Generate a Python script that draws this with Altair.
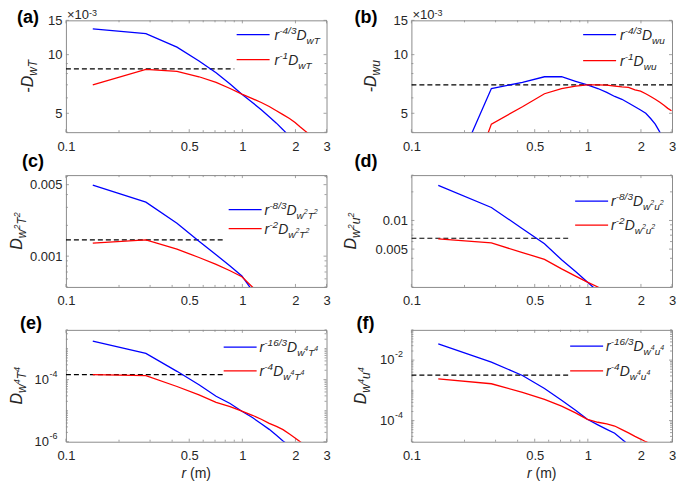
import altair as alt
import pandas as pd

# ---------------- values ----------------
# (a) -D_wT
r_a = [0.142, 0.284, 0.426, 0.568, 0.71, 0.852, 0.994, 1.14, 1.28, 1.42,
       1.56, 1.70, 1.85, 1.99, 2.13, 2.27, 2.41, 2.56]
blue_a = [0.01355, 0.01283, 0.01092, 0.00928, 0.00807, 0.00707, 0.00627, 0.00568, 0.00522, 0.00480,
          0.00445, 0.00412, 0.00380, 0.00355, 0.00330, 0.00310, 0.00290, 0.00270]
red_a = [0.00700, 0.00840, 0.00820, 0.00770, 0.00720, 0.00670, 0.00627, 0.00595, 0.00568, 0.00542,
         0.00515, 0.00492, 0.00470, 0.00449, 0.00425, 0.00405, 0.00388, 0.00370]
dash_a = 0.00846

# (b) -D_wu
r_b = [0.142, 0.284, 0.426, 0.568, 0.71, 0.852, 0.994, 1.14, 1.28, 1.42,
       1.56, 1.70, 1.85, 1.99, 2.13, 2.27, 2.41, 2.56, 2.70, 2.84, 2.98]
blue_b = [0.0016, 0.0067, 0.0072, 0.0077, 0.0077, 0.0073, 0.0070, 0.0067, 0.0064, 0.0061,
          0.0059, 0.00565, 0.0054, 0.0052, 0.0050, 0.0047, 0.0044, 0.0040, 0.0037, 0.0035, 0.0033]
red_b = [0.0008, 0.0044, 0.0054, 0.0063, 0.0067, 0.0069, 0.0070, 0.0070, 0.00698, 0.0069,
         0.00683, 0.0068, 0.0066, 0.0065, 0.0063, 0.0061, 0.0059, 0.0057, 0.0055, 0.0053, 0.00515]
dash_b = 0.0070

# (c) D_w2T2
r_c = [0.142, 0.284, 0.426, 0.568, 0.71, 0.852, 0.994, 1.14, 1.28]
blue_c = [0.00495, 0.00337, 0.00210, 0.00140, 0.00103, 0.00080, 0.00064, 0.00046, 0.00035]
red_c = [0.00134, 0.00144, 0.00117, 0.00097, 0.00083, 0.00072, 0.00063, 0.00050, 0.00041]
dash_c = 0.00144

# (d) D_w2u2
r_d = [0.142, 0.284, 0.426, 0.568, 0.71, 0.852, 0.994, 1.14, 1.28]
blue_d = [0.0234, 0.0137, 0.0082, 0.0057, 0.00386, 0.0029, 0.00225, 0.0018, 0.0014]
red_d = [0.0064, 0.0058, 0.0046, 0.0039, 0.0031, 0.0026, 0.00225, 0.0020, 0.0017]
dash_d = 0.0065

# (e) D_w4T4
r_e = [0.142, 0.284, 0.426, 0.568, 0.71, 0.852, 0.994, 1.14, 1.28, 1.42,
       1.56, 1.70, 1.85, 1.99, 2.13, 2.27]
blue_e = [1.75e-3, 7.0e-4, 1.85e-4, 6.8e-5, 2.9e-5, 1.7e-5, 9.6e-6, 6.0e-6, 3.8e-6, 2.5e-6,
          1.6e-6, 1.05e-6, 7.5e-7, 5.5e-7, 4.0e-7, 3.0e-7]
red_e = [1.44e-4, 1.34e-4, 6.0e-5, 3.2e-5, 1.85e-5, 1.35e-5, 9.6e-6, 7.1e-6, 5.3e-6, 3.9e-6,
         3.1e-6, 2.45e-6, 1.76e-6, 1.31e-6, 9.9e-7, 7.6e-7]
dash_e = 1.44e-4

# (f) D_w4u4
r_f = [0.142, 0.284, 0.426, 0.568, 0.71, 0.852, 0.994, 1.14, 1.28, 1.42,
       1.56, 1.70, 1.85, 1.99, 2.13, 2.27]
blue_f = [0.0345, 0.0086, 0.0031, 0.00115, 4.7e-4, 2.2e-4, 1.1e-4, 7.2e-5, 5.1e-5, 3.8e-5,
          2.4e-5, 1.6e-5, 1.1e-5, 8.0e-6, 6.0e-6, 4.5e-6]
red_f = [0.0024, 0.00165, 8.6e-4, 5.0e-4, 3.0e-4, 1.8e-4, 1.1e-4, 8.8e-5, 7.8e-5, 6.6e-5,
         5.0e-5, 3.9e-5, 3.0e-5, 2.45e-5, 2.0e-5, 1.7e-5]
dash_f = 3.2e-3

# tick values
x_major = [0.1, 0.5, 1, 2, 3]
x_minor = [0.2, 0.3, 0.4, 0.6, 0.7, 0.8, 0.9]
y_major_ab = [0.005, 0.01, 0.015]
y_minor_ab = [0.004, 0.006, 0.007, 0.008, 0.009]
y_major_c = [0.001, 0.005]
y_minor_c = [0.0005, 0.0006, 0.0007, 0.0008, 0.0009, 0.002, 0.003, 0.004, 0.006]
y_major_d = [0.005, 0.01]
y_minor_d = [0.002, 0.003, 0.004, 0.006, 0.007, 0.008, 0.009, 0.02, 0.03]
y_major_e = [1e-6, 1e-4]
y_sup_e = ["-6", "-4"]
y_minor_e = [m * 10.0 ** k for k in (-6, -5, -4, -3) for m in range(1, 10)
             if 1e-6 <= m * 10.0 ** k <= 4e-3 and (m, k) not in ((1, -6), (1, -4))]
y_major_f = [1e-4, 1e-2]
y_sup_f = ["-4", "-2"]
y_minor_f = [m * 10.0 ** k for k in (-5, -4, -3, -2, -1) for m in range(1, 10)
             if 2e-5 <= m * 10.0 ** k <= 0.1 and (m, k) not in ((1, -4), (1, -2))]

# ---------------- styling ----------------
FONT = "Liberation Sans"
TXT = "#262626"
AX = "#8c8c8c"
BLUE, RED = "#0000ff", "#ff0000"
W, H = 261, 112

WID = {"r": 0.333, "D": 0.722, "w": 0.722, "T": 0.611, "u": 0.556, "-": 0.333, "/": 0.278,
       " ": 0.278, "(": 0.333, ")": 0.333, "m": 0.833, "×": 0.584, ".": 0.278}
for _d in "0123456789":
    WID[_d] = 0.556


def tw(s, fs):
    return sum(WID.get(c, 0.556) for c in s) * fs


def width_of(pieces):
    return sum(tw(s, fs) for s, lv, fs, it in pieces)


ONE = alt.Data(values=[{}])


def txt(s, x, y, fs, italic=False, bold=False, angle=None, align="left",
        baseline="alphabetic", color=TXT, opacity=None):
    kw = dict(text=s, font=FONT, fontSize=fs, align=align, baseline=baseline, color=color)
    if italic:
        kw["fontStyle"] = "italic"
    if bold:
        kw["fontWeight"] = "bold"
    if angle is not None:
        kw["angle"] = angle
    if opacity is not None:
        kw["opacity"] = opacity
    return alt.Chart(ONE).mark_text(**kw).encode(x=alt.value(x), y=alt.value(y))


def rich(pieces, x0, y0, angle=None):
    out = []
    adv = 0.0
    for s, lv, fs, it in pieces:
        lead = len(s) - len(s.lstrip(" "))
        adv += tw(" " * lead, fs)
        s = s.lstrip(" ")
        if angle == 270:
            x, y = x0 + lv, y0 - adv
        else:
            x, y = x0 + adv, y0 + lv
        out.append(txt(s, x, y, fs, italic=it, angle=angle))
        adv += tw(s, fs)
    return out


def leg(power, sub, sup=None):
    p = [("r", 0, 14, True), (power, -6, 10, True), ("D", 0, 14, True)]
    if sup is None:
        p.append((sub, 4, 10, True))
    else:
        for ch in sub:
            p += [(ch, 4, 10, True), (sup, -1, 7, True)]
    return p


def ytitle(sub, sup=None, minus=False):
    p = [("-", 0, 16, True)] if minus else []
    p.append(("D", 0, 16, True))
    if sup is None:
        p.append((sub, 4, 12, True))
    else:
        for ch in sub:
            p += [(ch, 4, 12, True), (sup, -2, 9, True)]
    return p


AXC = dict(grid=False, ticks=False, tickSize=0, domain=False, labelFont=FONT, labelFontSize=13,
           labelColor=TXT, title=None, labelFlush=False, labelOverlap=False)


def panel(r, blue, red, dash_v, dash_end, ydom, ymaj, ymin, ylab, title_p, title_x,
          leg_b, leg_r, leg_x, leg_y, lab, lab_x, lab_y, exp10=False, bottom=False,
          anchor=False, sup_labels=None):
    xs = alt.Scale(type="log", domain=[0.1, 3], nice=False)
    ys = alt.Scale(type="log", domain=ydom, nice=False)
    xax = alt.Axis(values=x_major, labelExpr="format(datum.value, '~g')", labelPadding=8, **AXC)
    yax = None if ylab is None else alt.Axis(values=ymaj, labelExpr=ylab, labelPadding=4, **AXC)

    def X(f):
        return alt.X(f, type="quantitative", scale=xs, axis=xax)

    def Y(f):
        return alt.Y(f, type="quantitative", scale=ys, axis=yax)

    layers = []
    # inward ticks on all four sides
    for vals, ln in ((x_major, 3), (x_minor, 2)):
        d = pd.DataFrame({"t": vals})
        for a0, a1 in ((H, H - ln), (0, ln)):
            layers.append(alt.Chart(d).mark_rule(color=AX, strokeWidth=0.8).encode(
                x=X("t"), y=alt.value(a0), y2=alt.value(a1)))
    for vals, ln in ((ymaj, 3), (ymin, 2)):
        d = pd.DataFrame({"t": vals})
        for a0, a1 in ((0, ln), (W, W - ln)):
            layers.append(alt.Chart(d).mark_rule(color=AX, strokeWidth=0.8).encode(
                y=Y("t"), x=alt.value(a0), x2=alt.value(a1)))
    # dashed reference
    dd = pd.DataFrame({"r": [0.1, dash_end], "v": [dash_v, dash_v]})
    layers.append(alt.Chart(dd).mark_line(color="black", strokeDash=[5, 3], strokeWidth=1.2,
                                          clip=True).encode(x=X("r"), y=Y("v")))
    # curves
    df = pd.DataFrame({"r": list(r) * 2, "v": list(blue) + list(red),
                       "s": ["b"] * len(r) + ["r"] * len(r)})
    layers.append(alt.Chart(df).mark_line(strokeWidth=1.3, clip=True).encode(
        x=X("r"), y=Y("v"),
        color=alt.Color("s:N", scale=alt.Scale(domain=["b", "r"], range=[BLUE, RED]), legend=None)))
    # custom power-of-ten y labels
    if sup_labels is not None:
        d = pd.DataFrame({"t": ymaj, "s": sup_labels})
        layers.append(alt.Chart(d).mark_text(text="10", font=FONT, fontSize=13, align="right",
                                             baseline="middle", color=TXT).encode(
            y=Y("t"), x=alt.value(-17)))
        layers.append(alt.Chart(d).mark_text(font=FONT, fontSize=9, align="left",
                                             baseline="middle", color=TXT, dy=-6).encode(
            y=Y("t"), x=alt.value(-16.5), text="s:N"))
    # legend
    layers.append(alt.Chart(ONE).mark_rule(color=BLUE, strokeWidth=1.3).encode(
        x=alt.value(leg_x[0]), x2=alt.value(leg_x[1]), y=alt.value(leg_y[0])))
    layers.append(alt.Chart(ONE).mark_rule(color=RED, strokeWidth=1.3).encode(
        x=alt.value(leg_x[0]), x2=alt.value(leg_x[1]), y=alt.value(leg_y[1])))
    layers += rich(leg_b, leg_x[2], leg_y[0] + 5)
    layers += rich(leg_r, leg_x[2], leg_y[1] + 5)
    # y title (rotated)
    L = width_of(title_p)
    layers += rich(title_p, title_x, H / 2 + L / 2, angle=270)
    # panel label
    layers.append(txt(lab, lab_x, lab_y, 18, bold=True, color="black"))
    if exp10:
        layers += [txt("×10", 1, -1, 13), txt("-3", 1 + tw("×10", 13), -4, 9)]
    if bottom:
        p = [("r", 0, 14, True), (" (m)", 0, 14, False)]
        layers += rich(p, W / 2 - width_of(p) / 2, H + 36)
    if anchor:
        layers.append(txt(".", -57, -11, 1, baseline="top", color="white", opacity=0))
    return alt.layer(*layers).properties(width=W, height=H)


LAB_AB = "format(round(datum.value*1000), 'd')"
LAB_CD = "format(datum.value, '~g')"

pa = panel(r_a, blue_a, red_a, dash_a, 0.9, [0.004, 0.015], y_major_ab, y_minor_ab, LAB_AB,
           ytitle("wT", minus=True), -33, leg("-4/3", "wT"), leg("-1", "wT"),
           (171, 204, 209), (14.3, 39.3), "(a)", -49, 3, exp10=True, anchor=True)
pb = panel(r_b, blue_b, red_b, dash_b, 3.0, [0.004, 0.015], y_major_ab, y_minor_ab, LAB_AB,
           ytitle("wu", minus=True), -35, leg("-4/3", "wu"), leg("-1", "wu"),
           (172, 205, 209), (14.3, 40.3), "(b)", -57, 3, exp10=True)
pc = panel(r_c, blue_c, red_c, dash_c, 0.8, [0.0005, 0.0062], y_major_c, y_minor_c, LAB_CD,
           ytitle("wT", sup="2"), -44, leg("-8/3", "wT", "2"), leg("-2", "wT", "2"),
           (163, 196, 199), (34.5, 53.5), "(c)", -44, -8)
pd_ = panel(r_d, blue_d, red_d, dash_d, 0.8, [0.002, 0.03], y_major_d, y_minor_d, LAB_CD,
            ytitle("wu", sup="2"), -55, leg("-8/3", "wu", "2"), leg("-2", "wu", "2"),
            (164, 197, 200), (26, 50), "(d)", -57, -8)
pe = panel(r_e, blue_e, red_e, dash_e, 0.8, [1e-6, 4e-3], y_major_e, y_minor_e, None,
           ytitle("wT", sup="4"), -44, leg("-16/3", "wT", "4"), leg("-4", "wT", "4"),
           (158, 191, 194), (17.3, 41), "(e)", -46, -1, bottom=True, sup_labels=y_sup_e)
pf = panel(r_f, blue_f, red_f, dash_f, 0.8, [2e-5, 0.1], y_major_f, y_minor_f, None,
           ytitle("wu", sup="4"), -45, leg("-16/3", "wu", "4"), leg("-4", "wu", "4"),
           (159, 192, 195), (16.3, 41), "(f)", -55, -1, bottom=True, sup_labels=y_sup_f)

chart = alt.concat(pa, pb, pc, pd_, pe, pf, columns=2,
                   spacing={"row": 43, "column": 85}, bounds="flush").properties(
    padding=0, background="white").configure_view(stroke=AX, strokeWidth=1)

chart.save("out.html", embed_options={"renderer": "svg", "actions": False})
